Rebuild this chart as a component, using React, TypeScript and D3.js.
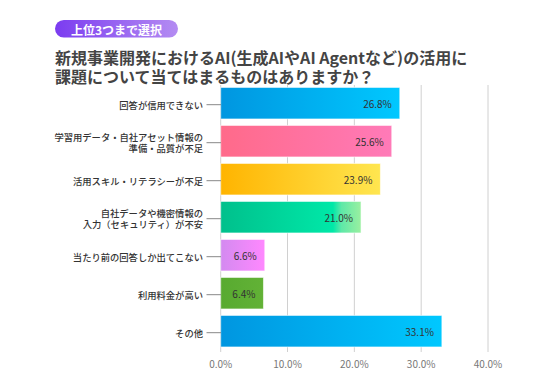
import * as d3 from "d3";

// data
const categories = [
  ["回答が信用できない"],
  ["学習用データ・自社アセット情報の", "準備・品質が不足"],
  ["活用スキル・リテラシーが不足"],
  ["自社データや機密情報の", "入力（セキュリティ）が不安"],
  ["当たり前の回答しか出てこない"],
  ["利用料金が高い"],
  ["その他"],
];
const values = [26.8, 25.6, 23.9, 21.0, 6.6, 6.4, 33.1];
const xTicks = [0, 10, 20, 30, 40];
const barColors = [
  ["#0096e0", "#00c8ff"],
  ["#ff6a8a", "#ff7ab8"],
  ["#ffb400", "#ffe650"],
  ["#00c08c", "#00e8a8", "#9af0a0"],
  ["#d38af0", "#ff88ff"],
  ["#58aa30", "#62b236"],
  ["#0096e0", "#00c8ff"],
];

const titleLines = ["新規事業開発におけるAI(生成AIやAI Agentなど)の活用に", "課題について当てはまるものはありますか？"];
const badgeText = "上位3つまで選択";

export default function App() {
  const width = 536;
  const height = 389;
  const font = "'Noto Sans CJK JP', 'Noto Sans', sans-serif";

  const x = d3.scaleLinear([0, 40], [220.7, 488]);
  const y = d3.scaleBand(d3.range(values.length), [84.2, 350.2]).paddingInner(0.17).paddingOuter(0.085);

  return (
    <div style={{ position: "absolute", left: 0, top: 0 }}>
      <svg width={width} height={height} style={{ background: "#fff", display: "block" }}>
        <defs>
          <linearGradient id="badge" x1="0" x2="1">
            <stop offset="0" stopColor="#7b3cf0" />
            <stop offset="1" stopColor="#b48cf2" />
          </linearGradient>
          {barColors.map((c, i) => (
            <linearGradient key={i} id={"bar" + i} x1="0" x2="1">
              {c.length === 3 ? (
                <>
                  <stop offset="0" stopColor={c[0]} />
                  <stop offset="0.8" stopColor={c[1]} />
                  <stop offset="0.86" stopColor="#5ee8a8" />
                  <stop offset="1" stopColor={c[2]} />
                </>
              ) : (
                <>
                  <stop offset="0" stopColor={c[0]} />
                  <stop offset="1" stopColor={c[1]} />
                </>
              )}
            </linearGradient>
          ))}
        </defs>

        {/* badge */}
        <rect x={55} y={20} width={123} height={17.5} rx={8.75} fill="url(#badge)" />
        <text x={116.5} y={29} textAnchor="middle" dominantBaseline="central" fill="#fff"
          fontFamily={font} fontSize={12} fontWeight={700}>{badgeText}</text>

        {/* title */}
        {titleLines.map((t, i) => (
          <text key={i} x={55} y={56.5 + i * 19.5} dominantBaseline="central" fill="#444"
            fontFamily={font} fontSize={16} fontWeight={700}>{t}</text>
        ))}

        {/* grid */}
        {xTicks.map((t) => (
          <g key={t}>
            <line x1={x(t)} x2={x(t)} y1={85} y2={352} stroke="#d0d0d0" strokeWidth={1} />
            <text x={x(t)} y={363} textAnchor="middle" dominantBaseline="central" fill="#777"
              fontFamily={font} fontSize={10}>{t.toFixed(1) + "%"}</text>
          </g>
        ))}

        {/* bars */}
        {values.map((v, i) => {
          const yc = y(i)! + y.bandwidth() / 2;
          const lines = categories[i];
          return (
            <g key={i}>
              <rect x={x(0)} y={y(i)} width={x(v) - x(0)} height={y.bandwidth()}
                fill={`url(#bar${i})`} stroke="#ffffff" strokeOpacity={0.6} strokeWidth={1} />
              <text x={x(v) - 8} y={yc} textAnchor="end" dominantBaseline="central" fill="#333"
                fontFamily={font} fontSize={10}>{v.toFixed(1) + "%"}</text>
              <line x1={206.5} x2={221} y1={yc + 1.5} y2={yc + 1.5} stroke="#888" strokeWidth={1} />
              {lines.map((l, j) => (
                <text key={j} x={203} y={yc + 1.5 + (j - (lines.length - 1) / 2) * 11.5}
                  textAnchor="end" dominantBaseline="central" fill="#333"
                  fontFamily={font} fontSize={9.3} fontWeight={500}>{l}</text>
              ))}
            </g>
          );
        })}
      </svg>
    </div>
  );
}
